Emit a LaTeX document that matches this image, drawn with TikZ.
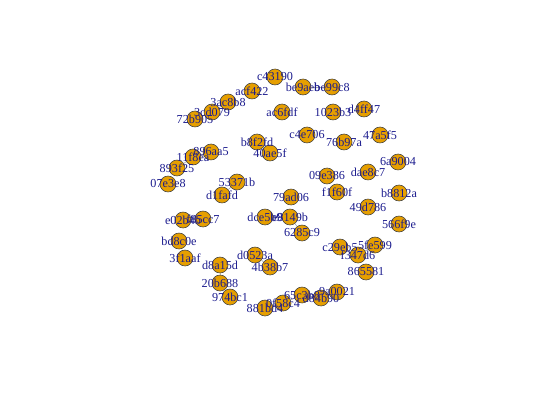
\documentclass[tikz,border=0pt]{standalone}
\usepackage{fontspec}
\setmainfont{Liberation Serif}
\definecolor{vfill}{HTML}{E69F00}
\definecolor{vlabel}{HTML}{1C1C8E}
\tikzset{
	vtx/.style={circle, draw=black!75, fill=vfill, line width=0.5pt, minimum size=0.48cm, inner sep=0pt},
	vlbl/.style={text=vlabel, font=\fontsize{10.4}{11}\selectfont, inner sep=0pt},
	edg/.style={draw=gray!70, line width=0.5pt}
}
\begin{document}
\begin{tikzpicture}[x=0.03cm, y=-0.03cm]
	\useasboundingbox (0,0) rectangle (540,400);
	% vertices
	\foreach \n/\x/\y in {c43190/275/77, acf422/252/91, 3ac8b8/228/102, 3cd079/212/112, 72b905/195/119,
		be9aeb/303/87, be99c8/332/87, ac6fdf/282/112, 1023b3/333/112, d4ff47/364/109,
		c4e706/307/135, 76b97a/344/142, 47a5f5/380/135, b8f2fd/257/142, 40ae5f/270/153,
		896aa5/211/152, 11f8ea/193/157, 893f25/177/168, 07e3e8/168/184, 53371b/237/182,
		d1fafd/222/195, 79ad06/291/197, 09e386/327/176, f1f60f/337/192, dae8c7/368/172,
		6a9004/398/162, b8812a/399/193, 49d786/368/207, 566f9e/399/224, e02b4b/183/220,
		f85cc7/203/219, dce5b9/265/217, e8149b/290/217, 6285c9/302/233, bd8c0e/179/241,
		3f1aaf/185/258, d8a15d/220/265, d0523a/255/255, 4b38b7/270/267, 20b688/220/283,
		974bc1/230/297, 881bd4/265/308, 0f58c4/283/303, 65c3b8/302/295, d84b90/321/298,
		9a0021/337/292, c29eb5/340/247, 5fe599/375/245, f347d6/358/255, 865581/366/272}
		\node[vtx] (\n) at (\x,\y) {};
	% edges
	\foreach \a/\b in {e8149b/6285c9, dce5b9/e8149b, d0523a/4b38b7, 11f8ea/896aa5, 893f25/11f8ea,
		3ac8b8/3cd079, 3cd079/72b905, e02b4b/f85cc7, 53371b/d1fafd, d8a15d/20b688,
		20b688/974bc1, 881bd4/0f58c4, 0f58c4/65c3b8, 65c3b8/d84b90, d84b90/9a0021,
		c29eb5/f347d6, f347d6/5fe599, be9aeb/be99c8, b8f2fd/40ae5f}
		\draw[edg] (\a) -- (\b);
	% labels
	\foreach \n in {c43190, acf422, 3ac8b8, 3cd079, 72b905, be9aeb, be99c8, ac6fdf, 1023b3, d4ff47,
		c4e706, 76b97a, 47a5f5, b8f2fd, 40ae5f, 896aa5, 11f8ea, 893f25, 07e3e8, 53371b,
		d1fafd, 79ad06, 09e386, f1f60f, dae8c7, 6a9004, b8812a, 49d786, 566f9e, e02b4b,
		f85cc7, dce5b9, e8149b, 6285c9, bd8c0e, 3f1aaf, d8a15d, d0523a, 4b38b7, 20b688,
		974bc1, 881bd4, 0f58c4, 65c3b8, d84b90, 9a0021, c29eb5, 5fe599, f347d6, 865581}
		\node[vlbl] at (\n) {\n};
\end{tikzpicture}
\end{document}
